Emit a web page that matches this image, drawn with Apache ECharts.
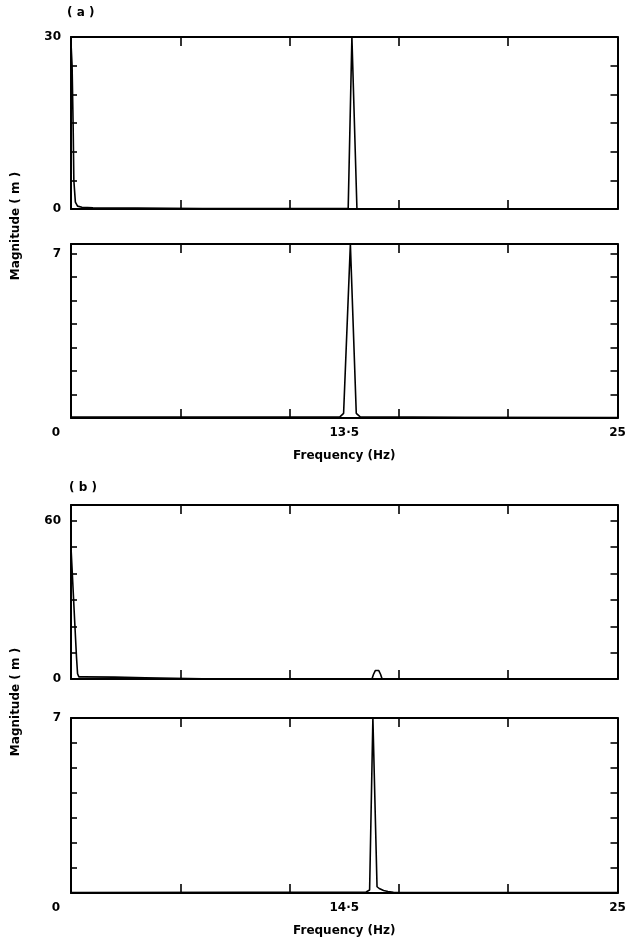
<!DOCTYPE html>
<html>
<head>
<meta charset="utf-8">
<script src="https://cdn.jsdelivr.net/npm/echarts@6/dist/echarts.min.js"></script>
<style>
  html, body { margin: 0; padding: 0; background: #fff; }
  #chart { width: 626px; height: 944px; }
</style>
</head>
<body>
<div id="chart"></div>
<script>
// (a) upper panel: magnitude (m) against frequency (Hz)
const freqA1 = [0, 0.05, 0.1, 0.13, 0.2, 0.3, 0.5, 1, 3, 6, 12.5, 12.68, 12.85, 13.08, 13.3, 18, 25];
const magA1  = [29, 25, 14, 5, 1.2, 0.5, 0.3, 0.2, 0.15, 0.1, 0.08, 0.1, 30, 0.1, 0.05, 0.03, 0.02];
// (a) lower panel
const freqA2 = [0, 6, 12.3, 12.47, 12.78, 13.05, 13.23, 18, 25];
const magA2  = [0.04, 0.04, 0.05, 0.2, 7.4, 0.2, 0.05, 0.03, 0.02];
// (b) upper panel
const freqB1 = [0, 0.09, 0.18, 0.25, 0.3, 0.36, 0.6, 2, 3.4, 6, 13.77, 13.84, 13.92, 14.0, 14.08, 14.16, 14.23, 18, 25];
const magB1  = [50, 35, 20, 8.5, 2, 0.8, 0.8, 0.7, 0.5, 0.1, 0.05, 1.8, 3.2, 3.5, 3.2, 1.8, 0.05, 0.03, 0.02];
// (b) lower panel
const freqB2 = [0, 8, 13.5, 13.66, 13.81, 14.0, 14.1, 14.3, 14.5, 14.75, 18, 25];
const magB2  = [0.02, 0.03, 0.04, 0.12, 7, 0.25, 0.18, 0.1, 0.06, 0.03, 0.02, 0.02];

// axes
const yMax = [30, 7.4, 66, 7];
const yStep = [5, 1, 10, 1];
const yLabelled = [[0, 30], [7], [0, 60], [7]];
const xLabelValues = [0, 12.5, 25];
const xLabelTextA = ['0', '13·5', '25'];
const xLabelTextB = ['0', '14·5', '25'];

const FONT = 'DejaVu Sans';
const gridTops = [37, 244, 505, 718];
const gridHeights = [172, 174, 174, 175];

const seriesData = [
  freqA1.map((f, i) => [f, magA1[i]]),
  freqA2.map((f, i) => [f, magA2[i]]),
  freqB1.map((f, i) => [f, magB1[i]]),
  freqB2.map((f, i) => [f, magB2[i]])
];

const lineStyle = { color: '#000', width: 2 };
const labelFont = { color: '#000', fontFamily: FONT, fontSize: 12, fontWeight: 'bold' };

const grid = [], xAxis = [], yAxis = [], series = [];

for (let i = 0; i < 4; i++) {
  grid.push({ left: 71, right: 8.5, top: gridTops[i], height: gridHeights[i], outerBoundsMode: 'none', containLabel: false });

  const texts = i === 1 ? xLabelTextA : i === 3 ? xLabelTextB : null;
  xAxis.push({
    type: 'value', gridIndex: i, position: 'bottom',
    min: 0, max: 25, interval: 5,
    axisLine: { show: true, onZero: false, lineStyle },
    axisTick: { show: true, inside: true, length: 9, lineStyle: { color: '#000', width: 1.6 } },
    splitLine: { show: false },
    axisLabel: texts ? {
      show: true, margin: 9, customValues: xLabelValues,
      formatter: v => {
        const t = texts[xLabelValues.indexOf(v)];
        return v === 0 ? '{l|' + t + '}' : t;
      },
      rich: { l: Object.assign({ padding: [0, 30, 0, 0] }, labelFont) },
      ...labelFont
    } : { show: false },
    name: texts ? 'Frequency (Hz)' : '',
    nameLocation: 'middle', nameGap: 32,
    nameTextStyle: labelFont
  });
  xAxis.push({
    type: 'value', gridIndex: i, position: 'top',
    min: 0, max: 25, interval: 5,
    axisLine: { show: true, onZero: false, lineStyle },
    axisTick: { show: true, inside: true, length: 9, lineStyle: { color: '#000', width: 1.6 } },
    splitLine: { show: false },
    axisLabel: { show: false }
  });

  const lab = yLabelled[i];
  yAxis.push({
    type: 'value', gridIndex: i, position: 'left',
    min: 0, max: yMax[i], interval: yStep[i],
    axisLine: { show: true, onZero: false, lineStyle },
    axisTick: { show: true, inside: true, length: 6, lineStyle: { color: '#000', width: 1.6 } },
    splitLine: { show: false },
    axisLabel: {
      show: true, margin: 10, hideOverlap: false,
      showMinLabel: true, showMaxLabel: true,
      formatter: v => (lab.indexOf(v) >= 0 ? String(v) : ''),
      ...labelFont
    }
  });
  yAxis.push({
    type: 'value', gridIndex: i, position: 'right',
    min: 0, max: yMax[i], interval: yStep[i],
    axisLine: { show: true, onZero: false, lineStyle },
    axisTick: { show: true, inside: true, length: 7, lineStyle: { color: '#000', width: 1.6 } },
    splitLine: { show: false },
    axisLabel: { show: false }
  });

  series.push({
    type: 'line', xAxisIndex: i * 2, yAxisIndex: i * 2,
    data: seriesData[i],
    showSymbol: false, symbol: 'none',
    lineStyle: { color: '#000', width: 1.6 },
    clip: true
  });
}

const chart = echarts.init(document.getElementById('chart'), null, { renderer: 'canvas' });
chart.setOption({
  animation: false,
  backgroundColor: '#fff',
  grid, xAxis, yAxis, series,
  graphic: [
    { type: 'text', x: 67, y: 13, style: { text: '( a )', fill: '#000', font: 'bold 12px "DejaVu Sans"', verticalAlign: 'middle' } },
    { type: 'text', x: 69, y: 488, style: { text: '( b )', fill: '#000', font: 'bold 12px "DejaVu Sans"', verticalAlign: 'middle' } },
    { type: 'text', x: 16, y: 226, rotation: Math.PI / 2, style: { text: 'Magnitude ( m )', fill: '#000', font: 'bold 12px "DejaVu Sans"', align: 'center', verticalAlign: 'middle' } },
    { type: 'text', x: 16, y: 702, rotation: Math.PI / 2, style: { text: 'Magnitude ( m )', fill: '#000', font: 'bold 12px "DejaVu Sans"', align: 'center', verticalAlign: 'middle' } }
  ]
});
</script>
</body>
</html>
